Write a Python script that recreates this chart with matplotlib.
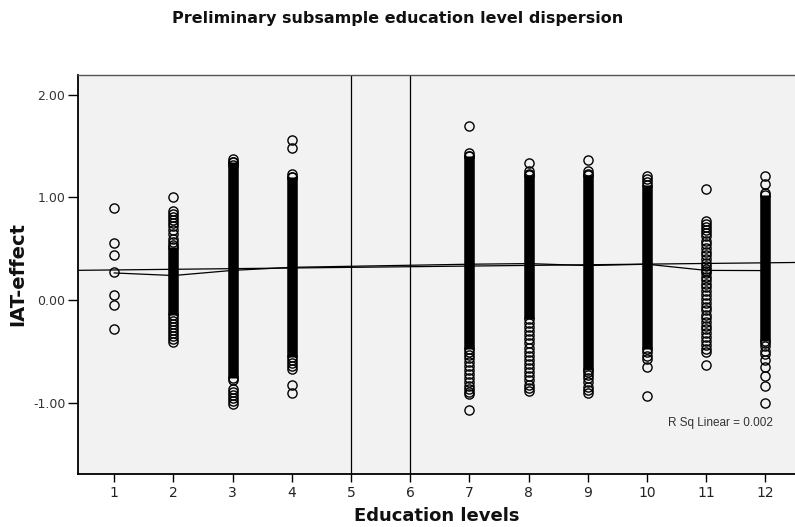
import matplotlib
matplotlib.use("Agg")
import matplotlib.pyplot as plt

# education levels that have data
levels = [1, 2, 3, 4, 7, 8, 9, 10, 11, 12]

# dense part of each column (too many overlapping circles to tell apart)
band_hi = [None, 0.52, 1.34, 1.20, 1.40, 1.22, 1.22, 1.12, None, 1.02]
band_lo = [None, -0.14, -0.76, -0.55, -0.47, -0.18, -0.68, -0.47, None, -0.40]

# separate circles, per level
iat_1 = [0.90, 0.56, 0.44, 0.27, 0.05, -0.05, -0.28]
iat_2 = [1.00, 0.87, 0.84, 0.81, 0.78, 0.75, 0.72, 0.68, 0.64, 0.60, 0.57, 0.54,
         -0.17, -0.20, -0.23, -0.26, -0.29, -0.32, -0.35, -0.38, -0.41]
iat_3 = [1.37, 1.34, 1.31, -0.78, -0.86, -0.89, -0.92, -0.95, -0.98, -1.01]
iat_4 = [1.56, 1.48, 1.23, 1.20, -0.58, -0.61, -0.64, -0.67, -0.82, -0.90]
iat_7 = [1.69, 1.43, 1.40, -0.50, -0.53, -0.56, -0.60, -0.64, -0.68, -0.72, -0.76,
         -0.80, -0.83, -0.86, -0.89, -0.91, -1.07]
iat_8 = [1.33, 1.26, 1.23, -0.22, -0.26, -0.30, -0.34, -0.38, -0.42, -0.46, -0.50,
         -0.54, -0.58, -0.62, -0.66, -0.70, -0.74, -0.78, -0.82, -0.85, -0.88]
iat_9 = [1.36, 1.26, 1.23, -0.70, -0.73, -0.76, -0.80, -0.84, -0.87, -0.90]
iat_10 = [1.21, 1.18, 1.15, -0.50, -0.54, -0.57, -0.65, -0.93]
iat_11 = [1.08, 0.77, 0.74, 0.71, 0.68, 0.65, 0.62, 0.58, 0.55, 0.51, 0.47, 0.44,
          0.40, 0.36, 0.33, 0.30, 0.28, 0.26, 0.23, 0.20, 0.16, 0.13, 0.09, 0.05,
          0.01, -0.03, -0.07, -0.10, -0.14, -0.17, -0.21, -0.25, -0.28, -0.32,
          -0.36, -0.40, -0.44, -0.47, -0.50, -0.63]
iat_12 = [1.21, 1.13, 1.04, -0.42, -0.45, -0.49, -0.52, -0.58, -0.65, -0.74, -0.83, -1.00]
iat_points = [iat_1, iat_2, iat_3, iat_4, iat_7, iat_8, iat_9, iat_10, iat_11, iat_12]

# loess line through the levels, and the linear fit
loess_y = [0.265, 0.24, 0.29, 0.32, 0.35, 0.356, 0.337, 0.35, 0.29, 0.288]
fit_intercept = 0.288
fit_slope = 0.0063
r_sq = 0.002

# reference lines
ref_lines = [5, 6]

x_ticks = list(range(1, 13))
y_ticks = [-1.0, 0.0, 1.0, 2.0]

W, H = 795, 527
fig = plt.figure(figsize=(W / 100, H / 100), dpi=100)
ax = fig.add_axes([78 / W, 1 - 474 / H, 1 - 78 / W, (474 - 75) / H])
ax.set_facecolor("#f2f2f2")

ms = 6.6
mew = 1.0
for x, lo, hi, pts in zip(levels, band_lo, band_hi, iat_points):
    if lo is not None:
        ax.vlines(x, lo, hi, colors="black", linewidth=ms + mew, zorder=3)
        ax.plot([x, x], [lo, hi], "o", ms=ms, mfc="none", mec="black", mew=mew, zorder=3)
    ax.plot([x] * len(pts), pts, "o", ms=ms, mfc="none", mec="black", mew=mew, zorder=3)

for x in ref_lines:
    ax.axvline(x, color="black", linewidth=0.9, zorder=2)

ax.axline((0, fit_intercept), slope=fit_slope, color="black", linewidth=0.9, zorder=4)
ax.plot(levels, loess_y, color="black", linewidth=0.9, zorder=4)

ax.text(12.13, -1.196, "R Sq Linear = %.3f" % r_sq, ha="right", va="center",
        fontsize=8.5, family=["Liberation Sans", "DejaVu Sans"], color="#333333")

ax.set_xlim(0.387, 12.5)
ax.set_ylim(-1.69, 2.19)
ax.set_xticks(x_ticks)
ax.set_xticklabels([str(t) for t in x_ticks], fontsize=10, color="#222222")
ax.set_yticks(y_ticks)
ax.set_yticklabels(["%.2f" % t for t in y_ticks], fontsize=9, color="#333333")
ax.tick_params(axis="y", length=7, width=1, pad=2)
ax.tick_params(axis="x", length=5.5, width=1, pad=3)

for side in ["left", "bottom"]:
    ax.spines[side].set_linewidth(1.3)
ax.spines["top"].set_color("#555555")
ax.spines["top"].set_linewidth(1.0)
ax.spines["right"].set_visible(False)

ax.set_ylabel("IAT-effect", fontsize=14, fontweight="bold", labelpad=4, color="#111111")
ax.set_xlabel("Education levels", fontsize=13, fontweight="bold", labelpad=5, color="#111111")
fig.text(0.5, 1 - 19 / H, "Preliminary subsample education level dispersion",
         ha="center", va="center", fontsize=11.5, fontweight="bold", color="#111111")

fig.savefig("out.png", dpi=100)
